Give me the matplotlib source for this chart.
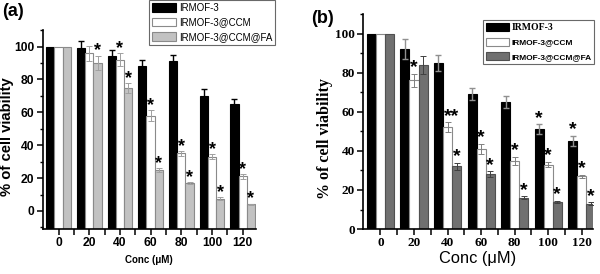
"""
Cell viability bar charts, panels (a) and (b).
"""

import numpy as np
import matplotlib.pyplot as plt
from matplotlib.ticker import MultipleLocator

# Data
conc = ["0", "20", "40", "60", "80", "100", "120"]
series_names = ["IRMOF-3", "IRMOF-3@CCM", "IRMOF-3@CCM@FA"]

# Panel (a)
a_mof = [100, 99, 94, 88, 91, 70, 65]
a_mof_err = [0, 4.5, 4, 4, 4, 4, 3]
a_ccm = [100, 96, 92, 58, 35, 33, 21]
a_ccm_err = [0, 4.5, 4, 3.5, 1.5, 1.5, 1.5]
a_fa = [100, 90, 75, 25, 17, 7.5, 4]
a_fa_err = [0, 4.5, 3, 1, 0.8, 0.8, 0.5]
a_stars_mof = [0, 0, 0, 0, 0, 0, 0]
a_stars_ccm = [0, 0, 1, 1, 1, 1, 1]
a_stars_fa = [0, 1, 1, 1, 1, 1, 1]

# Panel (b)
b_mof = [100, 92, 85, 69, 65, 51, 45]
b_mof_err = [0, 5, 4, 3, 3, 2.5, 2.5]
b_ccm = [100, 76, 52, 41, 35, 33, 27]
b_ccm_err = [0, 3.5, 2.5, 2.5, 2, 1.5, 0.8]
b_fa = [100, 84, 32, 28, 16, 14, 13]
b_fa_err = [0, 4.5, 2, 1.5, 0.7, 0.6, 0.6]
b_stars_mof = [0, 0, 0, 0, 0, 1, 1]
b_stars_ccm = [0, 1, 2, 1, 1, 1, 1]
b_stars_fa = [0, 0, 1, 1, 1, 1, 1]

SANS = "Liberation Sans"
SERIF = "Liberation Serif"


def draw_panel(ax, values, errors, stars, colors, edges, errcolors,
               ymin, tick_font, tick_size, star_pad, star_size, width=0.27):
    x = np.arange(len(conc))
    offsets = [-width, 0, width]
    handles = []
    for i in range(3):
        xs = x + offsets[i]
        vals = np.array(values[i], dtype=float)
        errs = np.array(errors[i], dtype=float)
        h = ax.bar(xs, vals - ymin, bottom=ymin, width=width,
                   color=colors[i], edgecolor=edges[i], linewidth=0.8,
                   zorder=2, label=series_names[i])
        handles.append(h)
        mask = errs > 0
        ax.errorbar(xs[mask], vals[mask], yerr=errs[mask], fmt="none",
                    ecolor=errcolors[i], elinewidth=1.0 if i == 0 else 0.7,
                    capsize=2.5, capthick=1.0 if i == 0 else 0.7, zorder=3)
        for j, s in enumerate(stars[i]):
            if s == 0:
                continue
            xt = xs[j]
            txt = "*"
            if s == 2:
                # double star spanning the CCM and FA bars
                txt = "**"
                xt = xs[j] + width / 2
            ax.text(xt, vals[j] + errs[j] + star_pad, txt, ha="center",
                    va="center", fontsize=star_size, fontweight="bold",
                    family=SANS, zorder=4)

    ax.set_xticks(x)
    ax.set_xticks(x[:-1] + 0.5, minor=True)
    ax.set_xticklabels(conc)
    ax.yaxis.set_major_locator(MultipleLocator(20))
    ax.yaxis.set_minor_locator(MultipleLocator(10))
    for side in ["top", "right"]:
        ax.spines[side].set_visible(False)
    for side in ["left", "bottom"]:
        ax.spines[side].set_linewidth(1.2)
    ax.tick_params(axis="both", which="major", direction="out", length=4,
                   width=1.1, pad=2)
    ax.tick_params(axis="y", which="minor", direction="out", length=2.5,
                   width=1.0)
    ax.tick_params(axis="x", which="minor", direction="out", length=4,
                   width=1.1)
    for lab in ax.get_xticklabels() + ax.get_yticklabels():
        lab.set_fontfamily(tick_font)
        lab.set_fontweight("bold")
        lab.set_fontsize(tick_size)
    return handles


def main():
    W, H = 600, 274
    fig = plt.figure(figsize=(6.0, 2.74), dpi=100)

    # Panel (a)
    ax1 = fig.add_axes([0.071, 0.164, 0.355, 0.726])
    h1 = draw_panel(ax1, [a_mof, a_ccm, a_fa], [a_mof_err, a_ccm_err, a_fa_err],
                    [a_stars_mof, a_stars_ccm, a_stars_fa],
                    colors=["black", "white", "#c2c2c2"],
                    edges=["black", "#8a8a8a", "#8a8a8a"],
                    errcolors=["black", "#a0a0a0", "#a0a0a0"],
                    ymin=-11, tick_font=SANS, tick_size=8.7,
                    star_pad=2.8, star_size=13)
    ax1.set_ylim(-11, 110)
    ax1.set_xlim(-0.52, 6.42)
    ax1.set_xlabel("Conc (μM)", fontsize=7, fontweight="bold", family=SANS,
                   labelpad=4)
    fig.text(7.5 / W, 1 - 137 / H, "% of cell viability", rotation=90,
             ha="center", va="center", fontsize=10.7, fontweight="bold",
             family=SANS)
    fig.text(2 / W, 1 - 3 / H, "(a)", fontsize=13, fontweight="bold",
             family=SANS, va="top", ha="left")
    leg1 = fig.legend(handles=h1, labels=series_names, loc="upper left",
                      bbox_to_anchor=(149 / W, 1.0),
                      bbox_transform=fig.transFigure,
                      prop={"family": SANS, "size": 7}, frameon=True,
                      fancybox=False, borderpad=0.3, labelspacing=0.45,
                      handlelength=2.5, handleheight=1.0, handletextpad=0.3,
                      borderaxespad=0)
    leg1.get_frame().set_edgecolor("#444444")
    leg1.get_frame().set_linewidth(0.8)

    # Panel (b)
    ax2 = fig.add_axes([0.605, 0.164, 0.383, 0.785])
    h2 = draw_panel(ax2, [b_mof, b_ccm, b_fa], [b_mof_err, b_ccm_err, b_fa_err],
                    [b_stars_mof, b_stars_ccm, b_stars_fa],
                    colors=["black", "white", "#707070"],
                    edges=["black", "#8a8a8a", "#505050"],
                    errcolors=["#909090", "#808080", "#404040"],
                    ymin=0, tick_font=SERIF, tick_size=9.5,
                    star_pad=3.2, star_size=14)
    ax2.set_ylim(0, 110)
    ax2.set_xlim(-0.52, 6.33)
    ax2.set_xlabel("Conc (μM)", fontsize=11.8, family=SANS, labelpad=1)
    fig.text(325 / W, 1 - 139 / H, "% of cell viability", rotation=90,
             ha="center", va="center", fontsize=11.5, fontweight="bold",
             family=SERIF)
    fig.text(311 / W, 1 - 10 / H, "(b)", fontsize=13, fontweight="bold",
             family=SANS, va="top", ha="left")
    leg2 = fig.legend(handles=h2, labels=series_names, loc="upper left",
                      bbox_to_anchor=(482.7 / W, 1 - 20 / H),
                      bbox_transform=fig.transFigure,
                      prop={"family": SANS, "size": 6, "weight": "bold"},
                      frameon=True, fancybox=False, borderpad=0.35,
                      labelspacing=0.7, handlelength=2.8, handleheight=1.1,
                      handletextpad=0.3, borderaxespad=0)
    leg2.get_texts()[0].set_fontfamily(SERIF)
    leg2.get_texts()[0].set_fontsize(7)
    leg2.get_frame().set_edgecolor("#444444")
    leg2.get_frame().set_linewidth(0.8)

    fig.savefig("out.png", dpi=100)
    plt.close(fig)


if __name__ == "__main__":
    main()
